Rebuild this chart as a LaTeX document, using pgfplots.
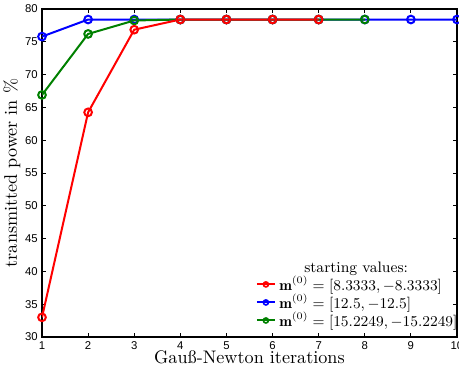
\documentclass[border=0pt]{standalone}
\usepackage{pgfplots}
\pgfplotsset{compat=1.18}
\usepackage{fontspec}
\newfontfamily\tickfont{Liberation Sans}
\definecolor{mred}{rgb}{1,0,0}
\definecolor{mblue}{rgb}{0,0,1}
\definecolor{mgreen}{rgb}{0,0.5,0}
\begin{document}
\begin{tikzpicture}
\begin{axis}[
  name=ax, at={(0,0)}, anchor=south west,
  scale only axis, width=249pt, height=196.8pt,
  xmin=1, xmax=10, ymin=30, ymax=80,
  xtick={1,...,10}, ytick={30,35,...,80},
  tick align=inside, major tick length=2.4pt,
  axis line style={line width=0.8pt},
  every tick/.style={black, line width=0.5pt},
  tick label style={font=\tickfont\fontsize{6.8}{8}\selectfont},
  /pgf/number format/assume math mode=true,
  xticklabel style={yshift=1pt},
  yticklabel style={xshift=1pt},
  xlabel={Gau\ss-Newton iterations},
  ylabel={transmitted power in \%},
  label style={font=\fontsize{10.9}{12}\selectfont},
  xlabel style={yshift=5.8pt},
  ylabel style={yshift=-4pt},
  legend cell align=left,
  legend style={at={(1,0)}, anchor=south east, draw=none, fill=none,
    font=\fontsize{9.1}{10}\selectfont, inner sep=1pt, row sep=-3pt,
    yshift=1.8pt, xshift=3.5pt},
  legend image post style={mark size=1.5pt},
  legend image code/.code={\draw[#1, line width=1.2pt] (0cm,0cm) -- (0.38cm,0cm); \draw[#1, mark repeat=1, line width=1pt] plot coordinates {(0.19cm,0cm)};},
]
\addplot[mblue, line width=1.2pt, mark=o, mark size=2.3pt, forget plot] coordinates {
(1,75.8) (2,78.4) (3,78.4) (4,78.4) (5,78.4) (6,78.4) (7,78.4) (8,78.4) (9,78.4) (10,78.4)};
\addplot[mgreen, line width=1.2pt, mark=o, mark size=2.3pt, forget plot] coordinates {
(1,66.9) (2,76.2) (3,78.25) (4,78.4) (5,78.4) (6,78.4) (7,78.4) (8,78.4)};
\addplot[mred, line width=1.2pt, mark=o, mark size=2.3pt, forget plot] coordinates {
(1,33.0) (2,64.25) (3,76.85) (4,78.4) (5,78.4) (6,78.4) (7,78.4)};
\addlegendimage{empty legend}
\addlegendentry{\hspace*{1.65em}starting values:}
\addlegendimage{mred, mark=o}
\addlegendentry{$\mathbf{m}^{(0)} = [8.3333, -8.3333]$}
\addlegendimage{mblue, mark=o}
\addlegendentry{$\mathbf{m}^{(0)} = [12.5, -12.5]$}
\addlegendimage{mgreen, mark=o}
\addlegendentry{$\mathbf{m}^{(0)} = [15.2249, -15.2249]$}
\end{axis}
\pgfresetboundingbox
\path[use as bounding box] (-25.2pt,-21pt) rectangle (250.2pt,202.2pt);
\end{tikzpicture}
\end{document}
